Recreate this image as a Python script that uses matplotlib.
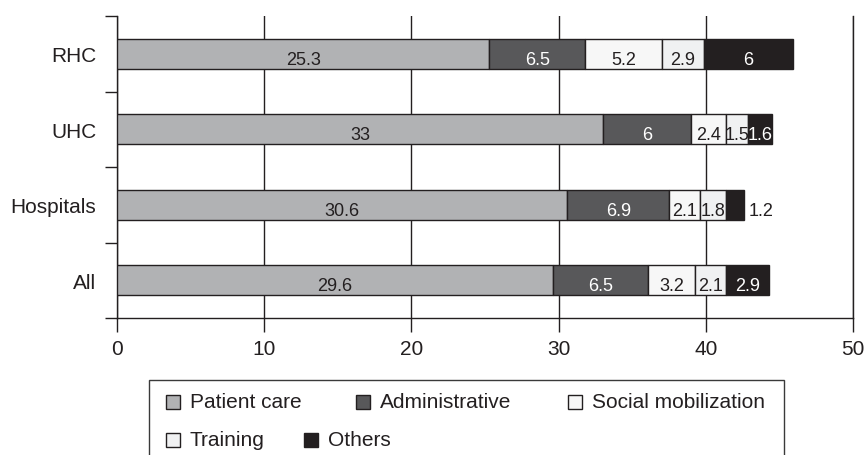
import matplotlib
matplotlib.use("Agg")
import matplotlib.pyplot as plt
from matplotlib.patches import Rectangle
import numpy as np

plt.rcParams['font.family'] = ['Liberation Sans', 'DejaVu Sans']

categories = ["RHC", "UHC", "Hospitals", "All"]
series_names = ["Patient care", "Administrative", "Social mobilization", "Training", "Others"]
patient_care = [25.3, 33, 30.6, 29.6]
administrative = [6.5, 6, 6.9, 6.5]
social_mobilization = [5.2, 2.4, 2.1, 3.2]
training = [2.9, 1.5, 1.8, 2.1]
others = [6, 1.6, 1.2, 2.9]
x_ticks = [0, 10, 20, 30, 40, 50]

series = [patient_care, administrative, social_mobilization, training, others]
colors = ["#b1b2b4", "#58585a", "#f7f7f7", "#f0f1f2", "#231f20"]
text_colors = ["#231f20", "white", "#231f20", "#231f20", "white"]
edge = "#231f20"

fig = plt.figure(figsize=(8.65, 4.56), dpi=100)
ax = fig.add_axes([117/865, 1-319/456, (853-117)/865, (319-17)/456])

y = np.arange(len(categories))
left = np.zeros(len(categories))
for vals, col, tcol in zip(series, colors, text_colors):
    vals = np.array(vals, dtype=float)
    ax.barh(y, vals, left=left, height=0.4, color=col, edgecolor=edge,
            linewidth=1.0, zorder=3)
    for i, (l, v) in enumerate(zip(left, vals)):
        if categories[i] == "Hospitals" and col == colors[-1]:
            ax.text(l + v + 0.3, i + 0.07, f"{v:g}", ha='left', va='center',
                    fontsize=13, color="#231f20", zorder=4)
        else:
            ax.text(l + v/2, i + 0.07, f"{v:g}", ha='center', va='center',
                    fontsize=13, color=tcol, zorder=4)
    left = left + vals

ax.set_xlim(0, 50)
ax.set_ylim(len(categories) - 0.5, -0.5)
ax.set_xticks(x_ticks)
ax.set_xticklabels([str(t) for t in x_ticks], fontsize=15, color="#231f20")
ax.set_yticks(np.arange(len(categories) + 1) - 0.5)
ax.set_yticklabels([])
ax.set_yticks(y, minor=True)
ax.set_yticklabels(categories, minor=True, fontsize=15, color="#231f20")
ax.tick_params(axis='y', which='minor', length=0, pad=15)
ax.tick_params(axis='y', which='major', length=9, width=1, color=edge)
ax.tick_params(axis='x', length=10, width=1, color=edge, pad=5)
ax.grid(axis='x', color=edge, linewidth=1, zorder=0)
for s in ['left', 'bottom', 'right']:
    ax.spines[s].set_color(edge)
    ax.spines[s].set_linewidth(1)
ax.spines['top'].set_visible(False)
ax.set_axisbelow(True)

# legend drawn as a flow layout (row 1: three items, row 2: two items)
W, H = 865, 456
fig.add_artist(Rectangle((149/W, -0.2), (784-149)/W, 0.2 + 1 - 381/H,
                         transform=fig.transFigure, facecolor='none',
                         edgecolor='#3a3a3a', linewidth=1.0, clip_on=False))
legend_pos = [(166, 403), (356, 403), (568, 403), (166, 441), (304, 441)]
for name, col, (px, py) in zip(series_names, colors, legend_pos):
    fig.add_artist(Rectangle((px/W, 1 - (py + 7)/H), 14/W, 14/H,
                             transform=fig.transFigure, facecolor=col,
                             edgecolor=edge, linewidth=1.0))
    fig.text((px + 24)/W, 1 - py/H, name, ha='left', va='center',
             fontsize=15, color="#231f20")

fig.savefig("out.png", dpi=100)
